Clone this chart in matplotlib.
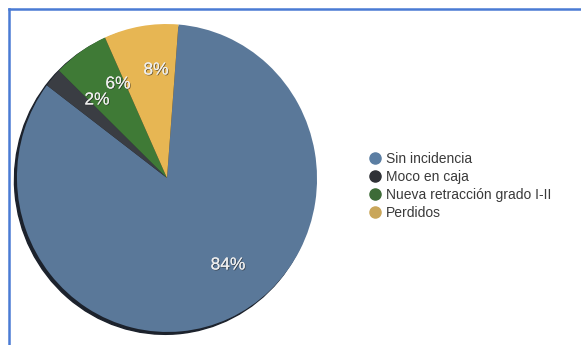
import matplotlib
matplotlib.use('Agg')
import matplotlib.pyplot as plt
from matplotlib.lines import Line2D
from matplotlib.patches import Ellipse
from matplotlib.transforms import Affine2D
import matplotlib.patheffects as pe

plt.rcParams['font.family'] = ['Liberation Sans', 'DejaVu Sans']

categories = ['Sin incidencia', 'Moco en caja', 'Nueva retracción grado I-II', 'Perdidos']
values = [84, 2, 6, 8]
colors = ['#5a7899', '#3a3d43', '#3f7a36', '#e7b653']
legend_colors = ['#5b7ea3', '#2f3136', '#3d6b37', '#c9a659']

# percent label spots, in pixels from the top-left
label_px = [(228, 265), (97, 100), (118, 84), (156, 70)]

W, H = 581, 345
fig = plt.figure(figsize=(W / 100, H / 100), dpi=100)
ax = fig.add_axes([0, 0, 1, 1])

# tilted pie: unit pie squashed + rotated into an ellipse
cx, cy, rx, ry, tilt = 167, 178, 150, 154, 4.5
tr = Affine2D().scale(rx, ry).rotate_deg(tilt).translate(cx, H - cy) + ax.transData

wedges, _ = ax.pie(values, colors=colors, startangle=81, counterclock=False,
                   wedgeprops=dict(linewidth=0))
for w in wedges:
    w.set_transform(tr)
shadow = Ellipse((-0.018, -0.014), 2.0, 2.0, color='#1c222c', zorder=0.5, transform=tr)
ax.add_patch(shadow)

ax.set_aspect('auto')
ax.set_xlim(0, W)
ax.set_ylim(0, H)
ax.axis('off')

for v, (px, py) in zip(values, label_px):
    ax.text(px, H - py, f'{v}%', ha='center', va='center', fontsize=12.5,
            color='#eeeeee',
            path_effects=[pe.withSimplePatchShadow(offset=(0.6, -0.6), shadow_rgbFace='#222222', alpha=0.6),
                          pe.Normal()])

handles = [Line2D([], [], marker='o', linestyle='', markersize=8,
                  markerfacecolor=c, markeredgecolor=c) for c in legend_colors]
fig.legend(handles, categories, loc='upper left', bbox_to_anchor=(362 / W, 1 - 146 / H),
           frameon=False, fontsize=10, handletextpad=0.3, labelspacing=0.3,
           handlelength=1.0, borderaxespad=0, labelcolor='#3a3a3a')

# blue frame
fig.add_artist(Line2D([9 / W, 9 / W], [0, 1 - 9 / H], color='#4a7bd4', lw=1.8,
                      transform=fig.transFigure))
fig.add_artist(Line2D([9 / W, 1], [1 - 9 / H, 1 - 9 / H], color='#4a7bd4', lw=1.8,
                      transform=fig.transFigure))

fig.savefig('out.png', dpi=100)
